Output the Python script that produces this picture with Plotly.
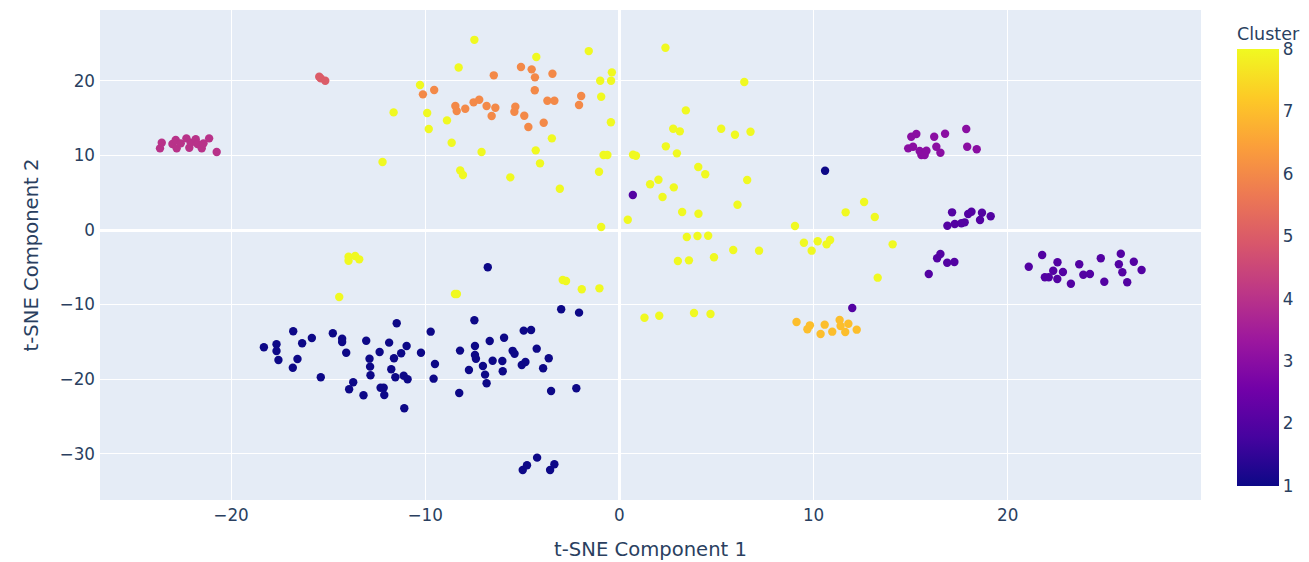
import plotly.graph_objects as go

# Cluster 1 (navy)
c1_x = [10.59, -6.78, -18.31, -17.66, -17.66, -17.56, -16.8, -16.34, -16.58, -16.82, -15.84, -15.38,
        -14.76, -14.28, -14.28, -14.07, -13.71, -13.92, -13.18, -13.04, -12.87, -12.84, -12.82, -12.35,
        -12.3, -12.14, -12.11, -11.86, -11.75, -11.61, -11.54, -11.47, -11.24, -11.11, -10.91, -10.96,
        -11.08, -10.22, -9.72, -9.5, -9.57, -8.25, -8.21, -7.47, -7.44, -7.44, -7.39, -7.75, -7.03,
        -6.92, -6.84, -6.68, -6.53, -6.03, -6.01, -5.94, -5.5, -5.4, -4.26, -3.64, -5.03, -4.84, -3.93,
        -4.93, -4.55, -3.0, -2.08, -3.52, -2.22, -4.98, -4.76, -4.24, -3.57, -3.35]
c1_y = [7.95, -5.0, -15.72, -15.32, -16.22, -17.43, -13.58, -15.19, -17.29, -18.46, -14.48, -19.75,
        -13.85, -14.57, -15.01, -16.45, -20.42, -21.35, -22.16, -14.84, -17.25, -18.32, -19.48, -16.35,
        -21.14, -21.14, -22.12, -15.1, -18.67, -17.2, -19.75, -12.51, -16.53, -19.53, -20.01, -15.55,
        -23.9, -16.45, -13.63, -17.96, -19.93, -21.85, -16.17, -12.1, -15.55, -16.76, -17.26, -18.77,
        -18.23, -19.39, -20.55, -14.88, -17.52, -17.56, -18.94, -14.44, -16.2, -16.6, -15.91, -17.2,
        -18.1, -17.69, -18.54, -13.49, -13.4, -10.63, -11.08, -21.58, -21.22, -32.17, -31.54, -30.52,
        -32.17, -31.41]

# Cluster 2 (violet)
c2_x = [0.69, 11.99, 17.13, 16.89, 17.27, 17.61, 17.78, 17.96, 18.13, 18.57, 18.67, 19.12,
        15.93, 16.36, 16.53, 16.88, 17.25,
        21.08, 21.77, 21.91, 22.11, 22.34, 22.56, 22.55, 22.84, 23.25, 23.68, 23.89, 24.23, 24.79,
        24.97, 25.72, 25.82, 25.9, 26.15, 26.49, 26.89]
c2_y = [4.69, -10.46, 2.37, 0.58, 0.8, 0.9, 1.03, 2.14, 2.45, 1.34, 2.32, 1.84,
        -5.9, -3.79, -3.22, -4.38, -4.29,
        -4.92, -3.35, -6.34, -6.34, -5.46, -4.33, -6.57, -5.63, -7.2, -4.6, -5.99, -5.9, -3.79,
        -6.93, -4.6, -3.18, -5.67, -7.01, -4.25, -5.36]

# Cluster 3 (purple)
c3_x = [15.03, 15.29, 14.87, 15.12, 15.46, 15.55, 15.72, 15.81, 16.21, 16.32, 16.53, 16.77, 17.86, 17.91, 18.4]
c3_y = [12.51, 12.87, 10.95, 11.17, 10.59, 10.05, 10.05, 10.63, 12.51, 11.17, 10.36, 12.91, 13.54, 11.17, 10.82]

# Cluster 4 (magenta)
c4_x = [-23.66, -23.57, -23.02, -22.85, -22.8, -22.59, -22.3, -22.15, -22.08, -21.82, -21.73, -21.51, -21.42, -21.13, -20.74]
c4_y = [10.95, 11.7, 11.53, 12.06, 10.95, 11.62, 12.29, 11.03, 11.7, 12.16, 11.53, 10.95, 11.62, 12.29, 10.46]

# Cluster 5 (red)
c5_x = [-15.46, -15.38, -15.15]
c5_y = [20.55, 20.33, 20.01]

# Cluster 6 (orange)
c6_x = [-9.54, -10.12, -6.47, -8.45, -8.38, -7.94, -7.51, -7.22, -6.84, -6.39, -6.58,
        -5.07, -4.52, -4.35, -3.45, -4.36, -3.71, -3.35, -1.97, -2.08, -5.36, -5.41, -4.9, -4.69, -3.9]
c6_y = [18.77, 18.19, 20.74, 16.62, 15.95, 16.26, 17.12, 17.47, 16.62, 16.39, 15.28,
        21.85, 21.54, 20.47, 20.95, 18.73, 17.33, 17.33, 17.96, 16.76, 16.53, 15.86, 15.33, 13.81, 14.38]

# Cluster 7 (amber)
c7_x = [9.12, 9.68, 9.81, 10.36, 10.57, 10.96, 11.34, 11.39, 11.63, 11.79, 12.22]
c7_y = [-12.33, -13.31, -12.78, -13.94, -12.69, -13.63, -12.06, -12.87, -13.67, -12.56, -13.36]

# Cluster 8 (yellow)
c8_x = [-7.47, -8.28, -10.27, -11.63, -9.9, -9.82, -8.88, -8.64, -7.1, -12.2, -8.2, -8.06, -5.62,
        -4.28, -1.58, 2.37, -0.39, -0.99, -0.43, -0.94, 6.43, 3.42, 2.77, 3.11, 5.24, 5.95, 6.75,
        -0.44, -3.48, -4.31, -4.09, -3.07, -0.82, -0.62, 0.7, 0.85, -1.05, 2.39, 2.96, 4.06, 4.42,
        6.58, 1.58, 2.01, 2.8, 2.22, 6.08, 3.23, 4.07, 0.43, -0.94, 9.04, 11.65, 12.6, 13.15, 3.47,
        4.02, 4.57, 5.86, 7.19, 9.5, 9.9, 10.21, 10.67, 10.85, 14.07, 3.01, 3.58, 4.87, 13.3,
        -2.92, -2.75, -1.94, -1.03, 1.29, 2.05, 3.84, 4.69,
        -13.95, -13.95, -13.61, -13.4, -14.43, -8.47, -8.37]
c8_y = [25.5, 21.8, 19.44, 15.77, 15.68, 13.54, 14.7, 11.7, 10.46, 9.12, 8.0, 7.37, 7.06,
        23.19, 23.99, 24.44, 21.14, 20.01, 20.01, 17.87, 19.84, 16.04, 13.58, 13.23, 13.58, 12.78, 13.18,
        14.44, 12.29, 10.68, 8.94, 5.54, 10.05, 10.05, 10.1, 9.95, 7.82, 11.22, 10.28, 8.45, 7.47,
        6.7, 6.13, 6.74, 5.72, 4.42, 3.39, 2.41, 2.19, 1.38, 0.4, 0.54, 2.37, 3.75, 1.74, -0.94,
        -0.8, -0.76, -2.68, -2.77, -1.7, -2.77, -1.51, -1.92, -1.34, -1.92, -4.16, -4.07, -3.66, -6.39,
        -6.7, -6.84, -7.95, -7.82, -11.76, -11.49, -11.13, -11.26,
        -3.58, -4.12, -3.49, -3.93, -8.98, -8.58, -8.58]

clusters = [1, 2, 3, 4, 5, 6, 7, 8]
xs = [c1_x, c2_x, c3_x, c4_x, c5_x, c6_x, c7_x, c8_x]
ys = [c1_y, c2_y, c3_y, c4_y, c5_y, c6_y, c7_y, c8_y]

all_x, all_y, all_c = [], [], []
for c, xv, yv in zip(clusters, xs, ys):
    all_x += xv
    all_y += yv
    all_c += [c] * len(xv)

S = 1.4
FONT = "Verdana, DejaVu Sans, sans-serif"
fig = go.Figure(go.Scatter(
    x=all_x, y=all_y, mode="markers",
    marker=dict(color=all_c, coloraxis="coloraxis", size=6 * S),
))

# page body adds an 8px offset; compensate so the plot area lands where the reference has it
fig.update_layout(
    width=1301, height=554,
    margin=dict(l=92, r=108, t=2, b=62, autoexpand=False),
    font=dict(family=FONT, size=12 * S, color="#2a3f5f"),
    plot_bgcolor="#E5ECF6", paper_bgcolor="white",
    coloraxis=dict(
        colorscale="Plasma", cmin=1, cmax=8,
        colorbar=dict(title=dict(text="Cluster", font=dict(size=17.5)),
                      thickness=30 * S, xpad=10 * S, ypad=10 * S,
                      outlinewidth=0, ticks="", tickfont=dict(size=12 * S)),
    ),
    xaxis=dict(title=dict(text="t-SNE Component 1", font=dict(size=14 * S), standoff=18),
               automargin=False, ticklabelstandoff=3,
               range=[-26.75, 29.95], gridcolor="white", gridwidth=1 * S,
               zerolinecolor="white", zerolinewidth=2 * S, tickfont=dict(size=12 * S),
               dtick=10, ticks=""),
    yaxis=dict(title=dict(text="t-SNE Component 2", font=dict(size=14 * S)),
               automargin=False, ticklabelstandoff=4,
               range=[-36.2, 29.5], gridcolor="white", gridwidth=1 * S,
               zerolinecolor="white", zerolinewidth=2 * S, tickfont=dict(size=12 * S),
               dtick=10, ticks=""),
    showlegend=False,
)

fig.write_html("out.html")
